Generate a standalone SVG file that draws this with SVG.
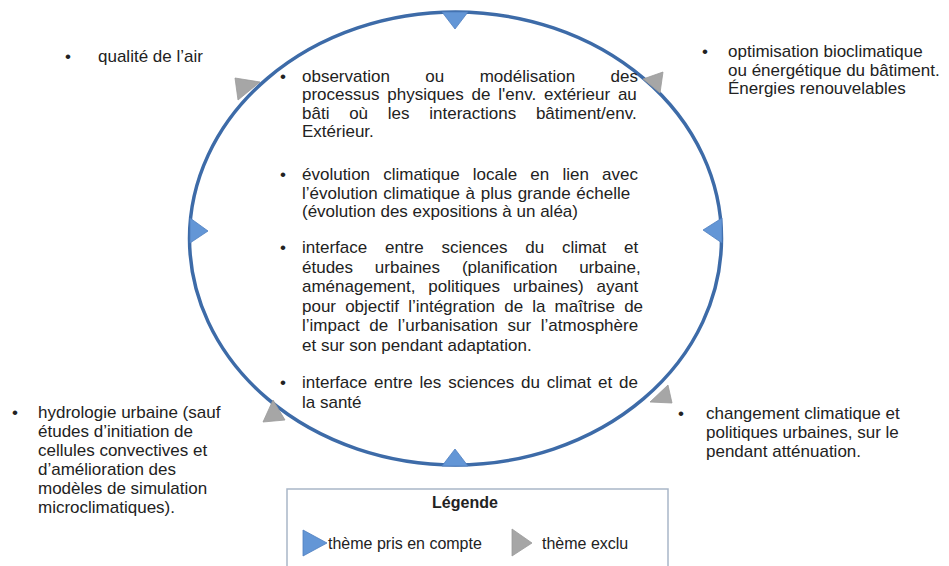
<svg xmlns="http://www.w3.org/2000/svg" width="949" height="566" viewBox="0 0 949 566">
<style>
text{font-family:"Liberation Sans",Arial,sans-serif;font-size:17px;fill:#222}
.lg{font-size:16px}
.b{font-weight:bold}
.tb{fill:#6396d6;stroke:#4f7fbf;stroke-width:0.8}
.tg{fill:#a6a6a6;stroke:#9a9a9a;stroke-width:0.8}
</style>
<rect width="949" height="566" fill="#fff"/>
<g id="connectors">
<ellipse cx="455.5" cy="238.5" rx="266" ry="226.5" fill="none" stroke="#3d6ba8" stroke-width="3.5"/>
</g>
<g id="markers">
<polygon class="tb" points="442,12 468,12 455,29"/>
<polygon class="tb" points="190,218 190,243 208,231"/>
<polygon class="tb" points="722,218 722,243 703,230"/>
<polygon class="tb" points="442,466 468,466 455,449"/>
<polygon class="tg" points="235,78 260,82 238,100"/>
<polygon class="tg" points="643,79 663,72 660,93"/>
<polygon class="tg" points="273,400 263,422 285,420"/>
<polygon class="tg" points="668,385 672,403 650,402"/>
</g>
<g id="center-text">
<text x="280" y="81.5">•</text>
<text x="302" y="81.5" word-spacing="30.7">observation ou modélisation des</text>
<text x="302" y="100" word-spacing="3.06">processus physiques de l'env. extérieur au</text>
<text x="302" y="118.5" word-spacing="15">bâti où les interactions bâtiment/env.</text>
<text x="302" y="137">Extérieur.</text>
<text x="280" y="180">•</text>
<text x="302" y="180" word-spacing="8.4">évolution climatique locale en lien avec</text>
<text x="302" y="198.5" word-spacing="1">l’évolution climatique à plus grande échelle</text>
<text x="302" y="217">(évolution des expositions à un aléa)</text>
<text x="280" y="253">•</text>
<text x="302" y="253" word-spacing="13">interface entre sciences du climat et</text>
<text x="302" y="272.5" word-spacing="17.1">études urbaines (planification urbaine,</text>
<text x="302" y="292" word-spacing="8.1">aménagement, politiques urbaines) ayant</text>
<text x="302" y="311.5" word-spacing="4.4">pour objectif l’intégration de la maîtrise de</text>
<text x="302" y="331" word-spacing="4.9">l’impact de l’urbanisation sur l’atmosphère</text>
<text x="302" y="350.5">et sur son pendant adaptation.</text>
<text x="280" y="388">•</text>
<text x="302" y="388" word-spacing="2.1">interface entre les sciences du climat et de</text>
<text x="302" y="407.5">la santé</text>
</g>
<g id="top-left">
<text x="65" y="62">•</text>
<text x="98" y="62">qualité de l’air</text>
</g>
<g id="top-right">
<text x="702" y="57">•</text>
<text x="728" y="57">optimisation bioclimatique</text>
<text x="728" y="75.5">ou énergétique du bâtiment.</text>
<text x="728" y="94">Énergies renouvelables</text>
</g>
<g id="bottom-right">
<text x="678" y="419">•</text>
<text x="706" y="419">changement climatique et</text>
<text x="706" y="438">politiques urbaines, sur le</text>
<text x="706" y="457">pendant atténuation.</text>
</g>
<g id="bottom-left">
<text x="12" y="418">•</text>
<text x="38" y="418">hydrologie urbaine (sauf</text>
<text x="38" y="437">études d’initiation de</text>
<text x="38" y="456">cellules convectives et</text>
<text x="38" y="475">d’amélioration des</text>
<text x="38" y="494">modèles de simulation</text>
<text x="38" y="513">microclimatiques).</text>
</g>
<g id="legend">
<rect x="287" y="489" width="381" height="90" fill="#fff" stroke="#a9b6c8" stroke-width="1.5"/>
<text class="b lg" x="465" y="508" text-anchor="middle">Légende</text>
<polygon class="tb" points="303,530 303,556 327,543"/>
<text class="lg" x="328" y="549">thème pris en compte</text>
<polygon class="tg" points="512,529 512,556 532,543"/>
<text class="lg" x="542" y="549">thème exclu</text>
</g>
</svg>
